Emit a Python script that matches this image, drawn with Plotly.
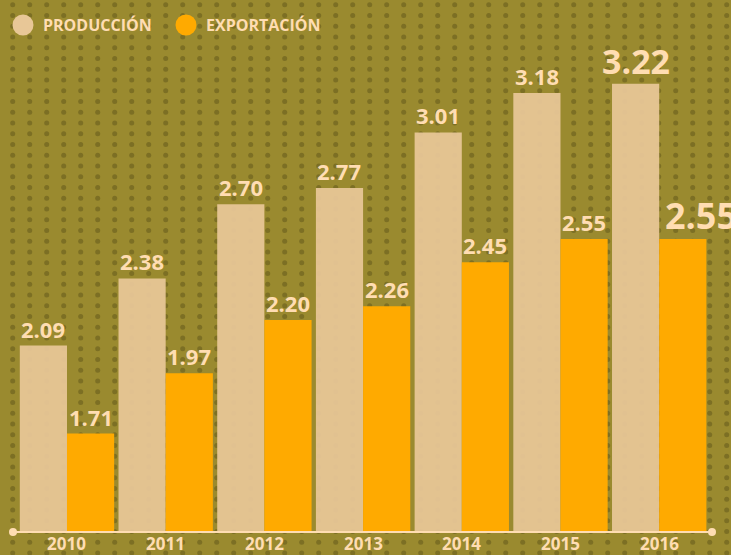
import numpy as np
import plotly.graph_objects as go

# ---- data ----
years = ["2010", "2011", "2012", "2013", "2014", "2015", "2016"]
produccion = [2.09, 2.38, 2.70, 2.77, 3.01, 3.18, 3.22]
exportacion = [1.71, 1.97, 2.20, 2.26, 2.45, 2.55, 2.55]
legend_names = ["PRODUCCIÓN", "EXPORTACIÓN"]

# ---- styles ----
W, H = 731, 555
BG = "#9A8A2F"
DOT = "#7C6F24"
PROD_C = "#E8C797"
EXP_C = "#FFAA00"
TXT = "#FFDDB2"
FONT = "Open Sans"
PX_L, PX_R, PX_B = 13, 712, 532   # plot-area edges in pixels

fig = go.Figure()

# decorative dotted background (pixel-space overlay axis)
gx, gy = np.meshgrid(12.7 + 17 * np.arange(43), 4.7 + 10.75 * np.arange(52))
fig.add_trace(go.Scatter(
    x=gx.ravel(), y=gy.ravel(), mode="markers",
    marker=dict(size=5, color=DOT), hoverinfo="skip", showlegend=False,
    xaxis="x", yaxis="y"))

# legend circles
fig.add_trace(go.Scatter(
    x=[23, 186], y=[25, 25], mode="markers",
    marker=dict(size=21, color=[PROD_C, EXP_C]), hoverinfo="skip",
    showlegend=False, xaxis="x", yaxis="y"))

# bars
fig.add_trace(go.Bar(
    x=years, y=produccion, name=legend_names[0], marker=dict(color=PROD_C, line_width=0),
    opacity=0.94, xaxis="x2", yaxis="y2", showlegend=False))
fig.add_trace(go.Bar(
    x=years, y=exportacion, name=legend_names[1], marker=dict(color=EXP_C, line_width=0),
    xaxis="x2", yaxis="y2", showlegend=False))

XR = [-0.547, 6.535]
YR = [1.285, 3.582]

annotations = []
n = len(years)
for i in range(n):
    last = i == n - 1
    size = 34 if last else 22
    annotations.append(dict(
        x=i, y=produccion[i], xref="x2", yref="y2", text=f"{produccion[i]:.2f}",
        showarrow=False, xshift=-23.6, yanchor="bottom", yshift=-2 if last else 0,
        font=dict(family=FONT, size=size, color=TXT, weight=700)))
    if last:
        annotations.append(dict(
            x=i, y=exportacion[i], xref="x2", yref="y2", text=f"{exportacion[i]:.2f}",
            showarrow=False, xshift=4, xanchor="left", yanchor="bottom", yshift=-3,
            font=dict(family=FONT, size=36, color=TXT, weight=700)))
    else:
        annotations.append(dict(
            x=i, y=exportacion[i], xref="x2", yref="y2", text=f"{exportacion[i]:.2f}",
            showarrow=False, xshift=23.6, yanchor="bottom",
            font=dict(family=FONT, size=size, color=TXT, weight=700)))
    # year label
    annotations.append(dict(
        x=i, y=PX_B + 11, xref="x2", yref="y", text=years[i], showarrow=False,
        yanchor="middle", font=dict(family=FONT, size=17, color=TXT, weight=700)))

# legend text
for name, lx in zip(legend_names, [41, 204]):
    annotations.append(dict(
        x=lx, y=25, xref="x", yref="y", text=name, showarrow=False,
        xanchor="left", yanchor="middle",
        font=dict(family=FONT, size=16, color=TXT, weight=700)))

# baseline with end dots
shapes = [dict(type="line", xref="x", yref="y", x0=PX_L, x1=PX_R, y0=PX_B, y1=PX_B,
               line=dict(color=TXT, width=2), layer="above")]
fig.add_trace(go.Scatter(
    x=[PX_L, PX_R], y=[PX_B, PX_B], mode="markers",
    marker=dict(size=8, color=TXT), hoverinfo="skip", showlegend=False,
    xaxis="x", yaxis="y"))

fig.update_layout(
    width=W, height=H,
    margin=dict(l=0, r=0, t=0, b=0),
    paper_bgcolor=BG, plot_bgcolor="rgba(0,0,0,0)",
    barmode="group", bargap=0.044, bargroupgap=0,
    showlegend=False,
    annotations=annotations,
    shapes=shapes,
    xaxis=dict(domain=[0, 1], range=[0, W], visible=False, fixedrange=True),
    yaxis=dict(domain=[0, 1], range=[H, 0], visible=False, fixedrange=True),
    xaxis2=dict(domain=[PX_L / W, PX_R / W], range=XR, anchor="y2", type="category",
                visible=False),
    yaxis2=dict(domain=[(H - PX_B) / H, 1], range=YR, anchor="x2", visible=False),
)

fig.write_html("out.html", config={"displayModeBar": False},
               post_script="document.body.style.margin='0';document.body.style.background='%s';" % BG)
